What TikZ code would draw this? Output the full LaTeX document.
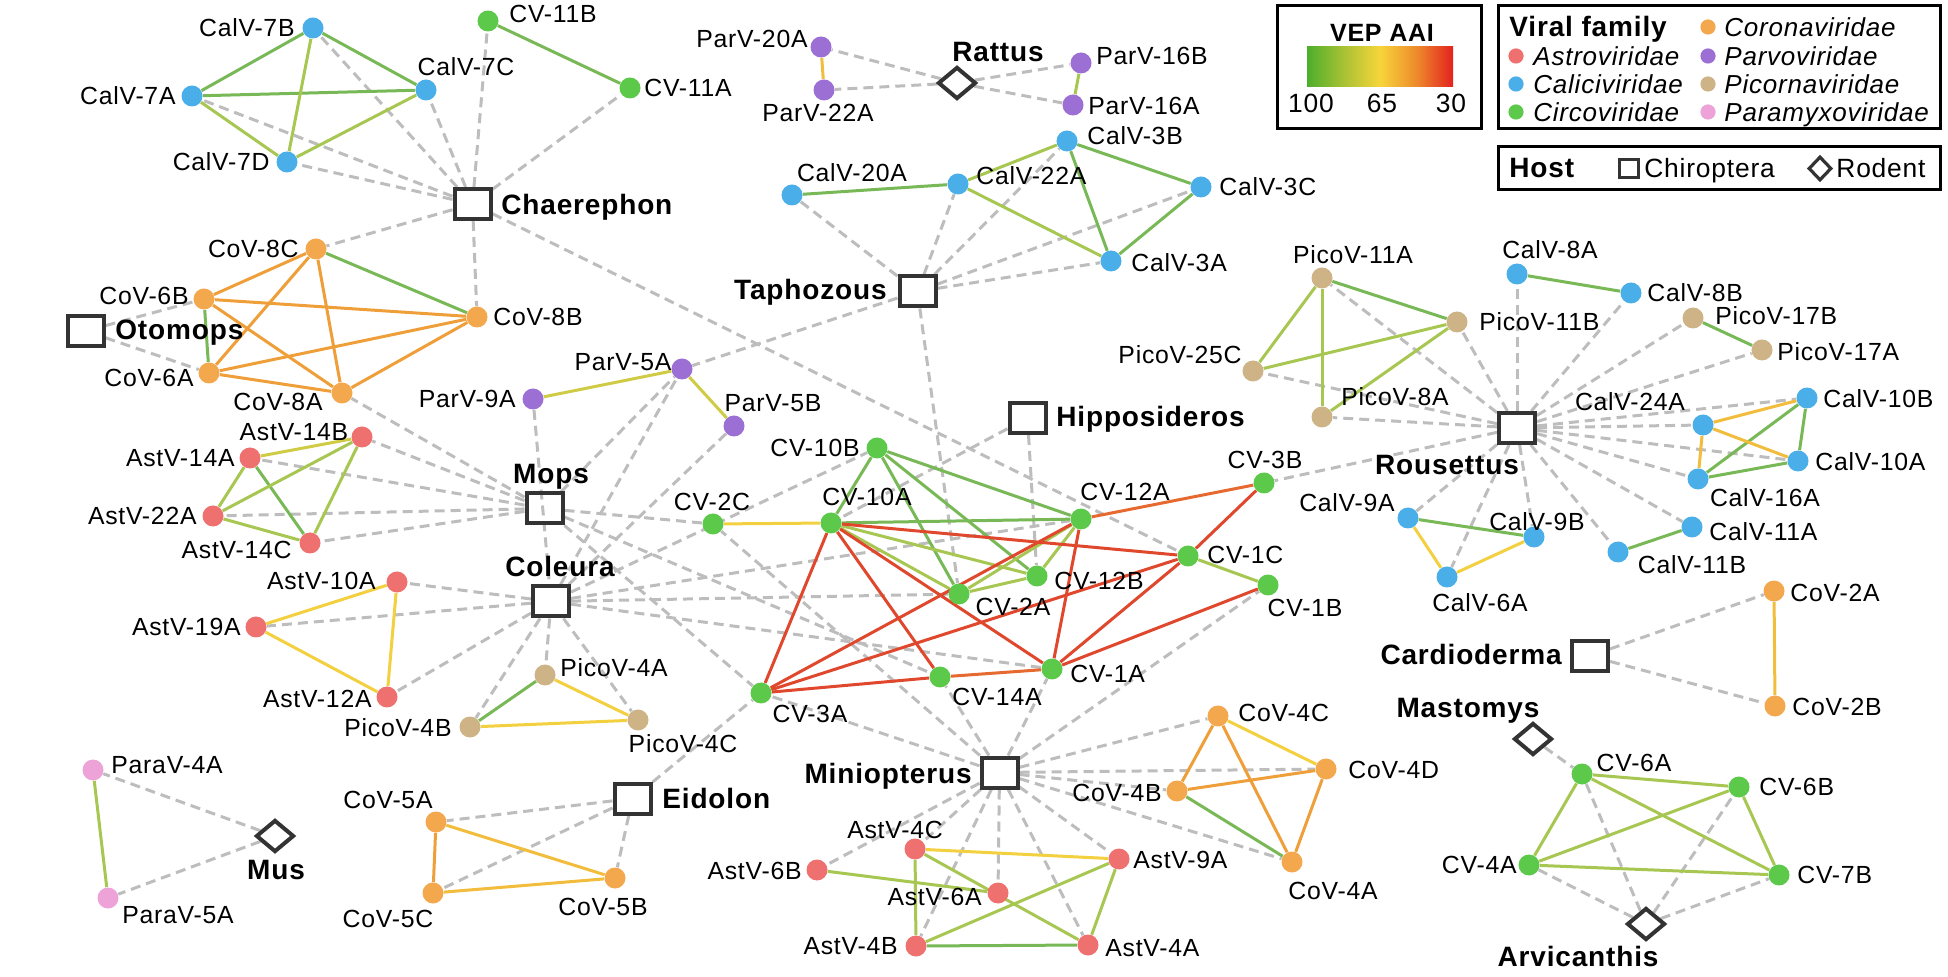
\documentclass[tikz,border=0pt]{standalone}
\usepackage{fontspec}
\setmainfont{Liberation Sans}
\newfontfamily\labfam[LetterSpace=3]{Liberation Sans}
\usetikzlibrary{shapes.geometric}
\definecolor{cAst}{HTML}{EE706F}
\definecolor{cCal}{HTML}{4AAEE8}
\definecolor{cCir}{HTML}{5DC94A}
\definecolor{cCor}{HTML}{F3A84E}
\definecolor{cPar}{HTML}{9C6FD5}
\definecolor{cPic}{HTML}{CDB386}
\definecolor{cPmx}{HTML}{EDA2D8}
\definecolor{eG}{HTML}{78B856}
\definecolor{eYG}{HTML}{A7C752}
\definecolor{eYL}{HTML}{CFCB45}
\definecolor{eY}{HTML}{F3D03F}
\definecolor{eYO}{HTML}{F2BC3C}
\definecolor{eO}{HTML}{EF9F3A}
\definecolor{eR1}{HTML}{E66A30}
\definecolor{eR2}{HTML}{E0482D}
\definecolor{dgray}{HTML}{BDBDBD}
\definecolor{hostc}{HTML}{333333}
\definecolor{gA}{HTML}{4DAE2C}
\definecolor{gB}{HTML}{A8C234}
\definecolor{gC}{HTML}{F7D53A}
\definecolor{gD}{HTML}{EE8A2B}
\definecolor{gE}{HTML}{E2221F}
\pgfdeclarehorizontalshading{vep}{100bp}{color(0bp)=(gA); color(25bp)=(gA); color(37.5bp)=(gB); color(50bp)=(gC); color(62.5bp)=(gD); color(75bp)=(gE); color(100bp)=(gE)}
\pgfdeclarelayer{bg}
\pgfsetlayers{bg,main}
\newcommand\VN[8]{\node[vir,#2] (#1) at (#3,#4) {}; \node[lab,anchor=#5] (#1-l) at (#6,#7) {#8};}
\newcommand\HS[8]{\node[#2] (#1) at (#3,#4) {}; \node[hlab,anchor=#5] (#1-l) at (#6,#7) {#8};}
\begin{document}
\begin{tikzpicture}[x=0.5pt,y=-0.5pt,
  vir/.style={circle,minimum size=10.5pt,inner sep=0pt,draw=none},
  ast/.style={fill=cAst}, cal/.style={fill=cCal}, cir/.style={fill=cCir},
  cor/.style={fill=cCor}, par/.style={fill=cPar}, pic/.style={fill=cPic}, pmx/.style={fill=cPmx},
  lab/.style={font={\labfam\fontsize{12.4pt}{14pt}\selectfont},inner sep=0pt,text height=8.9pt,text depth=0pt},
  hlab/.style={font={\labfam\bfseries\fontsize{14pt}{16pt}\selectfont},inner sep=0pt,text height=10pt,text depth=0pt},
  legt/.style={font={\labfam\fontsize{13.2pt}{16pt}\selectfont},inner sep=0pt,text height=9.5pt,text depth=0pt},
  legi/.style={font={\labfam\itshape\fontsize{13pt}{16pt}\selectfont},inner sep=0pt,text height=9.5pt,text depth=0pt},
  legb/.style={font={\labfam\bfseries\fontsize{14pt}{16pt}\selectfont},inner sep=0pt,text height=10pt,text depth=0pt},
  sq/.style={rectangle,draw=hostc,line width=2pt,minimum width=18pt,minimum height=15pt,inner sep=0pt},
  dm/.style={diamond,draw=hostc,line width=2pt,minimum width=19pt,minimum height=16pt,inner sep=0pt},
  ed/.style={line width=1.5pt},
  dsh/.style={draw=dgray,line width=1.5pt,dash pattern=on 5pt off 3pt}]
\useasboundingbox (0,0) rectangle (1948,977);
% ---------------- hosts ----------------
\HS{Chaerephon}{sq}{472.5}{204}{west}{501}{205}{Chaerephon}
\HS{Otomops}{sq}{85.5}{331}{west}{115}{330}{Otomops}
\HS{Taphozous}{sq}{917.5}{291.5}{east}{887}{290}{Taphozous}
\HS{Mops}{sq}{544.5}{508.5}{center}{551}{474}{Mops}
\HS{Coleura}{sq}{551}{601.5}{center}{560}{567}{Coleura}
\HS{Hipposideros}{sq}{1027.5}{418}{west}{1056}{417}{Hipposideros}
\HS{Rousettus}{sq}{1517}{428}{center}{1447}{465}{Rousettus}
\HS{Cardioderma}{sq}{1590}{656}{east}{1562}{655}{Cardioderma}
\HS{Eidolon}{sq}{632.5}{798.5}{west}{662}{798}{Eidolon}
\HS{Miniopterus}{sq}{999.5}{772.5}{east}{972}{773}{Miniopterus}
\HS{Rattus}{dm}{957}{83}{center}{998}{52}{Rattus}
\HS{Mus}{dm}{275}{836}{center}{276}{869}{Mus}
\HS{Mastomys}{dm}{1533}{739}{center}{1468}{708}{Mastomys}
\HS{Arvicanthis}{dm}{1646}{924}{center}{1578}{956}{Arvicanthis}
% ---------------- Caliciviridae ----------------
\VN{CalV7A}{cal}{192}{96}{east}{176}{96}{CalV-7A}
\VN{CalV7B}{cal}{313}{28}{east}{295}{28}{CalV-7B}
\VN{CalV7C}{cal}{426}{90}{center}{466}{67}{CalV-7C}
\VN{CalV7D}{cal}{287}{162}{east}{270}{162}{CalV-7D}
\VN{CalV20A}{cal}{792}{195}{center}{852}{173}{CalV-20A}
\VN{CalV22A}{cal}{958}{184}{west}{976}{176}{CalV-22A}
\VN{CalV3B}{cal}{1067}{141}{west}{1087}{136}{CalV-3B}
\VN{CalV3C}{cal}{1201}{187}{west}{1219}{187}{CalV-3C}
\VN{CalV3A}{cal}{1111}{261}{west}{1131}{263}{CalV-3A}
\VN{CalV8A}{cal}{1517}{274}{center}{1550}{250}{CalV-8A}
\VN{CalV8B}{cal}{1631}{293}{west}{1647}{293}{CalV-8B}
\VN{CalV24A}{cal}{1703}{425}{center}{1630}{402}{CalV-24A}
\VN{CalV10B}{cal}{1807}{398}{west}{1823}{399}{CalV-10B}
\VN{CalV10A}{cal}{1798}{461}{west}{1815}{462}{CalV-10A}
\VN{CalV16A}{cal}{1698}{479}{center}{1765}{498}{CalV-16A}
\VN{CalV11A}{cal}{1692}{527}{west}{1709}{532}{CalV-11A}
\VN{CalV11B}{cal}{1618}{552}{center}{1692}{565}{CalV-11B}
\VN{CalV9A}{cal}{1408}{518}{center}{1347}{503}{CalV-9A}
\VN{CalV9B}{cal}{1534}{537}{center}{1537}{522}{CalV-9B}
\VN{CalV6A}{cal}{1447}{577}{center}{1480}{603}{CalV-6A}
% ---------------- Circoviridae ----------------
\VN{CV11B}{cir}{488}{21}{west}{509}{14}{CV-11B}
\VN{CV11A}{cir}{630}{88}{west}{644}{88}{CV-11A}
\VN{CV10B}{cir}{877}{448}{east}{860}{448}{CV-10B}
\VN{CV10A}{cir}{831}{523}{center}{867}{497}{CV-10A}
\VN{CV2C}{cir}{713}{524}{center}{712}{502}{CV-2C}
\VN{CV12A}{cir}{1081}{519}{center}{1125}{492}{CV-12A}
\VN{CV3B}{cir}{1264}{483}{center}{1265}{460}{CV-3B}
\VN{CV1C}{cir}{1188}{556}{west}{1207}{555}{CV-1C}
\VN{CV12B}{cir}{1037}{576}{west}{1054}{581}{CV-12B}
\VN{CV1B}{cir}{1268}{585}{center}{1305}{608}{CV-1B}
\VN{CV2A}{cir}{959}{594}{center}{1013}{607}{CV-2A}
\VN{CV14A}{cir}{940}{677}{center}{997}{697}{CV-14A}
\VN{CV1A}{cir}{1052}{669}{west}{1070}{674}{CV-1A}
\VN{CV3A}{cir}{761}{693}{center}{810}{714}{CV-3A}
\VN{CV6A}{cir}{1582}{774}{center}{1634}{763}{CV-6A}
\VN{CV6B}{cir}{1739}{787}{west}{1759}{787}{CV-6B}
\VN{CV4A}{cir}{1529}{865}{east}{1517}{865}{CV-4A}
\VN{CV7B}{cir}{1779}{875}{west}{1797}{875}{CV-7B}
% ---------------- Coronaviridae ----------------
\VN{CoV8C}{cor}{316}{249}{east}{299}{249}{CoV-8C}
\VN{CoV6B}{cor}{204}{299}{east}{189}{296}{CoV-6B}
\VN{CoV8B}{cor}{477}{317}{west}{493}{317}{CoV-8B}
\VN{CoV6A}{cor}{209}{373}{east}{194}{378}{CoV-6A}
\VN{CoV8A}{cor}{342}{393}{center}{278}{402}{CoV-8A}
\VN{CoV5A}{cor}{436}{822}{center}{388}{800}{CoV-5A}
\VN{CoV5C}{cor}{433}{893}{center}{388}{919}{CoV-5C}
\VN{CoV5B}{cor}{615}{878}{center}{603}{907}{CoV-5B}
\VN{CoV4C}{cor}{1218}{716}{west}{1238}{713}{CoV-4C}
\VN{CoV4D}{cor}{1326}{769}{west}{1348}{770}{CoV-4D}
\VN{CoV4B}{cor}{1177}{791}{east}{1162}{793}{CoV-4B}
\VN{CoV4A}{cor}{1292}{862}{center}{1333}{891}{CoV-4A}
\VN{CoV2A}{cor}{1774}{591}{west}{1790}{593}{CoV-2A}
\VN{CoV2B}{cor}{1775}{706}{west}{1792}{707}{CoV-2B}
% ---------------- Parvoviridae ----------------
\VN{ParV20A}{par}{821}{47}{east}{808}{39}{ParV-20A}
\VN{ParV22A}{par}{824}{90}{center}{818}{113}{ParV-22A}
\VN{ParV16B}{par}{1081}{63}{west}{1096}{56}{ParV-16B}
\VN{ParV16A}{par}{1073}{105}{west}{1088}{106}{ParV-16A}
\VN{ParV9A}{par}{533}{399}{east}{516}{399}{ParV-9A}
\VN{ParV5A}{par}{682}{369}{center}{623}{362}{ParV-5A}
\VN{ParV5B}{par}{734}{426}{center}{773}{403}{ParV-5B}
% ---------------- Picornaviridae ----------------
\VN{PicoV11A}{pic}{1322}{278}{center}{1353}{255}{PicoV-11A}
\VN{PicoV11B}{pic}{1457}{322}{west}{1479}{322}{PicoV-11B}
\VN{PicoV25C}{pic}{1253}{371}{east}{1242}{355}{PicoV-25C}
\VN{PicoV8A}{pic}{1322}{417}{center}{1395}{397}{PicoV-8A}
\VN{PicoV17B}{pic}{1693}{318}{west}{1715}{316}{PicoV-17B}
\VN{PicoV17A}{pic}{1762}{350}{west}{1777}{352}{PicoV-17A}
\VN{PicoV4A}{pic}{545}{675}{west}{560}{668}{PicoV-4A}
\VN{PicoV4B}{pic}{470}{727}{east}{452}{728}{PicoV-4B}
\VN{PicoV4C}{pic}{638}{720}{center}{683}{744}{PicoV-4C}
% ---------------- Astroviridae ----------------
\VN{AstV14B}{ast}{362}{437}{center}{294}{432}{AstV-14B}
\VN{AstV14A}{ast}{250}{458}{east}{235}{458}{AstV-14A}
\VN{AstV22A}{ast}{213}{516}{east}{197}{516}{AstV-22A}
\VN{AstV14C}{ast}{310}{543}{east}{292}{550}{AstV-14C}
\VN{AstV10A}{ast}{397}{582}{east}{376}{581}{AstV-10A}
\VN{AstV19A}{ast}{256}{627}{east}{241}{627}{AstV-19A}
\VN{AstV12A}{ast}{387}{697}{east}{372}{699}{AstV-12A}
\VN{AstV4C}{ast}{915}{849}{center}{895}{830}{AstV-4C}
\VN{AstV6B}{ast}{817}{870}{east}{802}{871}{AstV-6B}
\VN{AstV6A}{ast}{998}{893}{east}{982}{897}{AstV-6A}
\VN{AstV4B}{ast}{916}{946}{east}{898}{946}{AstV-4B}
\VN{AstV9A}{ast}{1119}{859}{west}{1133}{860}{AstV-9A}
\VN{AstV4A}{ast}{1088}{945}{west}{1105}{948}{AstV-4A}
% ---------------- Paramyxoviridae ----------------
\VN{ParaV4A}{pmx}{93}{770}{west}{111}{765}{ParaV-4A}
\VN{ParaV5A}{pmx}{108}{898}{center}{178}{915}{ParaV-5A}
% ---------------- edges ----------------
\begin{pgfonlayer}{bg}
\foreach \v in {CalV7A,CalV7B,CalV7C,CalV7D,CV11B,CV11A,CoV8C,CoV8B,CV1C} \draw[dsh] (Chaerephon) -- (\v);
\foreach \v in {CoV6B,CoV6A} \draw[dsh] (Otomops) -- (\v);
\foreach \v in {ParV20A,ParV22A,ParV16B,ParV16A} \draw[dsh] (Rattus) -- (\v);
\foreach \v in {CalV20A,CalV22A,CalV3B,CalV3C,CalV3A,ParV5A,CV2A} \draw[dsh] (Taphozous) -- (\v);
\foreach \v in {CoV8A,AstV14B,AstV14A,AstV22A,AstV14C,ParV5A,CV2C,CV3A,CV14A} \draw[dsh] (Mops) -- (\v);
\draw[dsh] (ParV9A) -- (Coleura);
\foreach \v in {AstV10A,AstV19A,AstV12A,PicoV4A,PicoV4B,PicoV4C,ParV5A,ParV5B,CV10B,CV12A,CV2A,CV1A} \draw[dsh] (Coleura) -- (\v);
\foreach \v in {CV12B,CV10A} \draw[dsh] (Hipposideros) -- (\v);
\foreach \v in {PicoV11A,PicoV11B,PicoV25C,PicoV8A,CalV8A,CalV8B,PicoV17B,PicoV17A,CalV24A,CalV10B,CalV10A,CalV16A,CalV11A,CalV11B,CalV9B,CalV9A,CalV6A,CV3B} \draw[dsh] (Rousettus) -- (\v);
\foreach \v in {CoV2A,CoV2B} \draw[dsh] (Cardioderma) -- (\v);
\foreach \v in {ParaV4A,ParaV5A} \draw[dsh] (Mus) -- (\v);
\foreach \v in {CoV5A,CoV5C,CoV5B,CV3A} \draw[dsh] (Eidolon) -- (\v);
\foreach \v in {CV2C,CV3A,CV14A,CV1A,CV1B,CoV4C,CoV4D,CoV4B,CoV4A,AstV4C,AstV6B,AstV6A,AstV4B,AstV4A,AstV9A} \draw[dsh] (Miniopterus) -- (\v);
\foreach \v in {CV6A} \draw[dsh] (Mastomys) -- (\v);
\foreach \v in {CV6A,CV6B,CV4A,CV7B} \draw[dsh] (Arvicanthis) -- (\v);
% coloured edges
\foreach \a/\b in {CalV7A/CalV7B,CalV7A/CalV7C,CalV7B/CalV7C,CV11B/CV11A,CalV20A/CalV22A,CalV3B/CalV3C,CalV3B/CalV3A,CalV3C/CalV3A,CoV8C/CoV8B,CoV6B/CoV6A,PicoV11A/PicoV11B,CalV8A/CalV8B,PicoV17B/PicoV17A,CalV10B/CalV16A,CalV10B/CalV10A,CalV16A/CalV10A,CalV11A/CalV11B,CalV9A/CalV9B,AstV14A/AstV14C,PicoV4A/PicoV4B,CoV4B/CoV4A,AstV4B/AstV4A,CV10B/CV10A,CV10B/CV12A,CV10B/CV2A,CV10B/CV12B,CV10A/CV12A} \draw[ed,eG] (\a) -- (\b);
\foreach \a/\b in {CalV7B/CalV7D,CalV7A/CalV7D,CalV7C/CalV7D,ParV16B/ParV16A,CalV22A/CalV3B,CalV22A/CalV3A,PicoV11A/PicoV25C,PicoV11A/PicoV8A,PicoV25C/PicoV11B,PicoV8A/PicoV11B,AstV14A/AstV22A,AstV22A/AstV14B,AstV22A/AstV14C,AstV14B/AstV14C,ParaV4A/ParaV5A,AstV4C/AstV4B,AstV4C/AstV4A,AstV6B/AstV6A,AstV4B/AstV9A,AstV9A/AstV4A,CV6A/CV6B,CV6A/CV4A,CV6A/CV7B,CV6B/CV4A,CV6B/CV7B,CV4A/CV7B,CV1C/CV1B,CV10A/CV12B,CV10A/CV2A,CV12A/CV12B,CV12A/CV2A,CV2A/CV12B} \draw[ed,eYG] (\a) -- (\b);
\foreach \a/\b in {ParV9A/ParV5A,ParV5A/ParV5B,AstV14A/AstV14B} \draw[ed,eYL] (\a) -- (\b);
\foreach \a/\b in {CalV9A/CalV6A,CalV9B/CalV6A,AstV10A/AstV19A,AstV19A/AstV12A,AstV10A/AstV12A,PicoV4A/PicoV4C,PicoV4B/PicoV4C,CoV4C/CoV4D,AstV4C/AstV9A,CV2C/CV10A} \draw[ed,eY] (\a) -- (\b);
\foreach \a/\b in {ParV20A/ParV22A,CalV24A/CalV10B,CalV24A/CalV10A,CalV24A/CalV16A,CoV5A/CoV5B,CoV5C/CoV5B,CoV2A/CoV2B} \draw[ed,eYO] (\a) -- (\b);
\foreach \a/\b in {CoV8C/CoV6B,CoV8C/CoV6A,CoV8C/CoV8A,CoV6B/CoV8B,CoV6B/CoV8A,CoV6A/CoV8B,CoV6A/CoV8A,CoV8A/CoV8B,CoV5A/CoV5C,CoV4C/CoV4B,CoV4C/CoV4A,CoV4B/CoV4D,CoV4D/CoV4A} \draw[ed,eO] (\a) -- (\b);
\foreach \a/\b in {CV12A/CV3B,CV14A/CV1A} \draw[ed,eR1] (\a) -- (\b);
\foreach \a/\b in {CV10A/CV1C,CV10A/CV14A,CV10A/CV1A,CV10A/CV3A,CV3A/CV14A,CV3A/CV12A,CV3A/CV1C,CV12A/CV1A,CV3B/CV1C,CV1C/CV1A,CV1B/CV1A} \draw[ed,eR2] (\a) -- (\b);
\end{pgfonlayer}
% ---------------- legends ----------------
\draw[line width=1.5pt] (1277,6) rectangle (1481,129);
\node[font={\labfam\bfseries\fontsize{12.5pt}{14pt}\selectfont},inner sep=0pt,text height=9pt,text depth=0pt] (vepT) at (1382,33) {VEP AAI};
\shade[shading=vep] (1307,47) rectangle (1453,87);
\node[legt] (v100) at (1311,103) {100};
\node[legt] (v65) at (1382,103) {65};
\node[legt] (v30) at (1451,103) {30};
\draw[line width=1.5pt] (1498,6) rectangle (1940,129);
\node[legb,anchor=west] (vfT) at (1509,27) {Viral family};
\foreach \c/\t/\yy [count=\i] in {cAst/Astroviridae/56,cCal/Caliciviridae/84,cCir/Circoviridae/112} {
  \fill[\c] (1516,\yy) circle (3.8pt);
  \node[legi,anchor=west] (fa\i) at (1533,\yy) {\t};}
\foreach \c/\t/\yy [count=\i] in {cCor/Coronaviridae/27,cPar/Parvoviridae/56,cPic/Picornaviridae/84,cPmx/Paramyxoviridae/112} {
  \fill[\c] (1708,\yy) circle (3.8pt);
  \node[legi,anchor=west] (fb\i) at (1724,\yy) {\t};}
\draw[line width=1.5pt] (1498,147) rectangle (1940,190);
\node[legb,anchor=west] (hT) at (1509,168) {Host};
\node[rectangle,draw=hostc,line width=1.6pt,minimum width=9.3pt,minimum height=9.3pt,inner sep=0pt] (lgSq) at (1629,168.5) {};
\node[legt,anchor=west] (lgChi) at (1644,168) {Chiroptera};
\node[diamond,draw=hostc,line width=1.6pt,minimum width=11.5pt,minimum height=12pt,inner sep=0pt] (lgDm) at (1820,168.5) {};
\node[legt,anchor=west] (lgRod) at (1836,168) {Rodent};
\end{tikzpicture}
\end{document}
